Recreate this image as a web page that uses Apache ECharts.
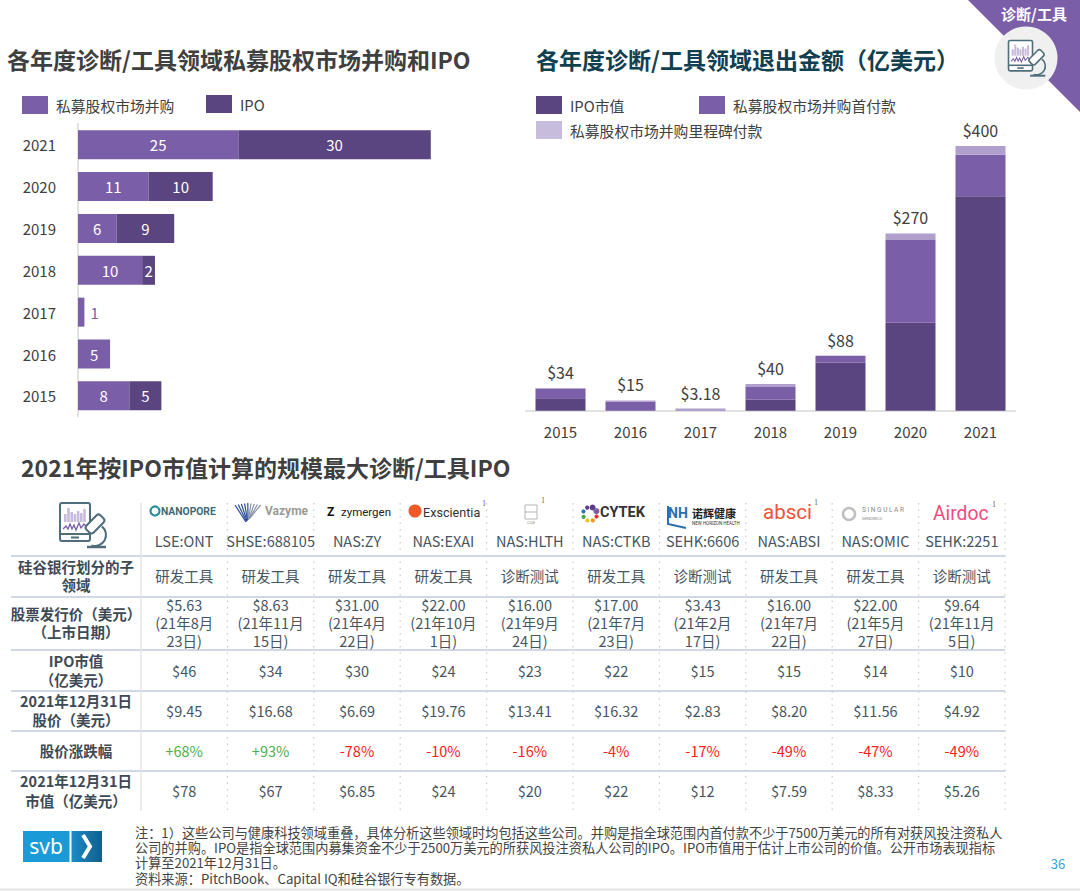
<!DOCTYPE html>
<html>
<head>
<meta charset="utf-8">
<title>诊断/工具</title>
<script src="https://cdn.jsdelivr.net/npm/echarts@6/dist/echarts.min.js"></script>
<style>
html,body{margin:0;padding:0;background:#fff;}
#main{width:1080px;height:891px;}
</style>
</head>
<body>
<div id="main"></div>
<script>
// left chart
var years = ['2015','2016','2017','2018','2019','2020','2021'];
var maDeals = [8,5,1,10,6,11,25];
var ipoDeals = [5,null,null,2,9,10,30];
// right chart
var ipoValue = [19,0,0,17,73,133,324];
var firstPay = [14,14,0.6,19,10,125,63];
var milestone = [1.5,1.5,2.6,4.5,0,10,13];
var totalLabels = ['$34','$15','$3.18','$40','$88','$270','$400'];
// table
var tickers = ['LSE:ONT','SHSE:688105','NAS:ZY','NAS:EXAI','NAS:HLTH','NAS:CTKB','SEHK:6606','NAS:ABSI','NAS:OMIC','SEHK:2251'];
var subFields = ['研发工具','研发工具','研发工具','研发工具','诊断测试','研发工具','诊断测试','研发工具','研发工具','诊断测试'];
var issuePrices = ['$5.63','$8.63','$31.00','$22.00','$16.00','$17.00','$3.43','$16.00','$22.00','$9.64'];
var listDates1 = ['(21年8月','(21年11月','(21年4月','(21年10月','(21年9月','(21年7月','(21年2月','(21年7月','(21年5月','(21年11月'];
var listDates2 = ['23日)','15日)','22日)','1日)','24日)','23日)','17日)','22日)','27日)','5日)'];
var ipoCaps = ['$46','$34','$30','$24','$23','$22','$15','$15','$14','$10'];
var closePrices = ['$9.45','$16.68','$6.69','$19.76','$13.41','$16.32','$2.83','$8.20','$11.56','$4.92'];
var priceChanges = ['+68%','+93%','-78%','-10%','-16%','-4%','-17%','-49%','-47%','-49%'];
var marketCaps = ['$78','$67','$6.85','$24','$20','$22','$12','$7.59','$8.33','$5.26'];
var rowHeaders = [
    [[567,'硅谷银行划分的子'],[585,'领域']],
    [[614,'股票发行价（美元）'],[632,'（上市日期）']],
    [[661,'IPO市值'],[680,'（亿美元）']],
    [[701,'2021年12月31日'],[720,'股价（美元）']],
    [[751,'股价涨跌幅']],
    [[781,'2021年12月31日'],[801,'市值（亿美元）']]
];
var noteLines = [
    '注：1）这些公司与健康科技领域重叠，具体分析这些领域时均包括这些公司。并购是指全球范围内首付款不少于7500万美元的所有对获风投注资私人',
    '公司的并购。IPO是指全球范围内募集资金不少于2500万美元的所获风投注资私人公司的IPO。IPO市值用于估计上市公司的价值。公开市场表现指标',
    '计算至2021年12月31日。',
    '资料来源：PitchBook、Capital IQ和硅谷银行专有数据。'
];

var FONT = '"Noto Sans CJK SC"';
var PURPLE = '#7a5ea8', DARK = '#5a4580', LIGHT = '#b09fcc', LIGHT_KEY = '#c7bcdc';
var SLATE = '#46555f';

var chart = echarts.init(document.getElementById('main'), null, {renderer:'svg'});
var g = [];

function txt(x,y,text,size,color,align,bold,family){
    g.push({type:'text',silent:true,z:10,style:{
        x:x,y:y-1,text:text,fill:color,
        font:(bold?'bold ':'')+size+'px '+(family||FONT),
        align:align||'center',textAlign:align||'center',
        verticalAlign:'middle',textVerticalAlign:'middle'
    }});
}
function hline(x1,x2,y,color,w){
    g.push({type:'line',silent:true,shape:{x1:x1,y1:y,x2:x2,y2:y},style:{stroke:color,lineWidth:w}});
}

// ---- corner tag
g.push({type:'polygon',silent:true,shape:{points:[[968,0],[1080,0],[1080,112]]},style:{fill:PURPLE}});
g.push({type:'circle',silent:true,shape:{cx:1026,cy:58,r:31.5},style:{fill:'#f0f0f0'}});
txt(1034,14,'诊断/工具',15,'#fff','center',true);

function drawIcon(ox,oy,s){
    var line = '#4f6d7a';
    var kids = [
        {type:'rect',shape:{x:0,y:0,width:30,height:38,r:2},style:{fill:'#fff',stroke:line,lineWidth:2}},
        {type:'line',shape:{x1:0,y1:31,x2:30,y2:31},style:{stroke:line,lineWidth:2}},
        {type:'line',shape:{x1:11,y1:34.5,x2:19,y2:34.5},style:{stroke:line,lineWidth:2}}
    ];
    var hs = [8,14,10,8,11,9,13];
    for(var i=0;i<hs.length;i++){
        kids.push({type:'rect',shape:{x:4+i*3.2,y:19-hs[i],width:2.6,height:hs[i]},style:{fill:'#c7bcdc'}});
    }
    kids.push({type:'polyline',shape:{points:[[3,26],[6,23],[8,26],[10,21],[12,26],[14,22],[16,27],[19,20],[21,25],[24,21],[27,24]]},
        style:{stroke:PURPLE,lineWidth:1.3,fill:'none'}});
    kids.push({type:'arc',shape:{cx:35,cy:32,r:11,startAngle:-0.9,endAngle:1.9},style:{stroke:line,lineWidth:2,fill:'none'}});
    kids.push({type:'line',shape:{x1:27,y1:44,x2:46,y2:44},style:{stroke:line,lineWidth:2.5}});
    kids.push({type:'rect',rotation:-0.78,originX:35,originY:21,shape:{x:30,y:11,width:10,height:20,r:3},style:{fill:'#fff',stroke:line,lineWidth:2}});
    g.push({type:'group',silent:true,x:ox,y:oy,scaleX:s,scaleY:s,z:9,children:kids});
}
drawIcon(1008.5,40.5,0.8);
drawIcon(60,503,1);

// ---- headings
txt(7,60,'各年度诊断/工具领域私募股权市场并购和IPO',23,'#3f3f3f','left',true);
txt(536,60,'各年度诊断/工具领域退出金额（亿美元）',23,'#10404f','left',true);
txt(21,468,'2021年按IPO市值计算的规模最大诊断/工具IPO',23,'#3f3f3f','left',true);

// ---- table grid
var TX = 141, CW = 86.4, TR = 1005;
var rowLines = [556,597,650,691,731,771];
rowLines.forEach(function(y){ hline(11,TR,y,'#cfd8e4',2); });
g.push({type:'line',silent:true,shape:{x1:TX,y1:503,x2:TX,y2:811},style:{stroke:'#e2e5e9',lineWidth:1.5}});
for(var c=1;c<=10;c++){
    var vx = TX+c*CW;
    g.push({type:'line',silent:true,shape:{x1:vx,y1:503,x2:vx,y2:811},style:{stroke:'#c5d0da',lineWidth:1.3,lineDash:[1.5,5]}});
}
rowHeaders.forEach(function(r){
    r.forEach(function(l){ txt(76,l[0],l[1],14.5,'#3d4a55','center',true); });
});
function cellX(i){ return TX+CW/2+i*CW; }
function tableRow(list,y,colorFn){
    list.forEach(function(v,i){ txt(cellX(i),y,v,14.5,colorFn?colorFn(v):SLATE); });
}
tableRow(tickers,541.5);
tableRow(subFields,576);
tableRow(issuePrices,605);
tableRow(listDates1,623.5);
tableRow(listDates2,641.5);
tableRow(ipoCaps,671);
tableRow(closePrices,711);
tableRow(priceChanges,751,function(v){ return v.charAt(0)=='+' ? '#4cb050' : '#ff2020'; });
tableRow(marketCaps,791);

// ---- company logos
var LATIN = 'Roboto';
g.push({type:'circle',silent:true,shape:{cx:155,cy:511,r:4.5},style:{fill:'none',stroke:'#2a8f9e',lineWidth:2.2}});
txt(161,512,'NANOPORE',10.3,'#3e6a78','left',true,LATIN);
for(var s=0;s<9;s++){
    g.push({type:'line',silent:true,shape:{x1:235+s*3.2,y1:503+Math.abs(s-4)*0.5,x2:246+s*0.5,y2:522-s*0.5},style:{stroke:s<5?'#2a4a9a':'#8a94a8',lineWidth:1.2}});
}
txt(265,512,'Vazyme',12,'#9a9a9a','left',true,LATIN);
txt(327,513,'Z',12,'#111','left',true,LATIN);
txt(341,513,'zymergen',11.5,'#222','left',false,LATIN);
g.push({type:'circle',silent:true,shape:{cx:415,cy:511,r:6.5},style:{fill:'#f05a28'}});
txt(423,513,'Exscientia',12.6,'#333','left',false,LATIN);
txt(484,504,'1',8,'#666','center',false,'Liberation Serif');
g.push({type:'rect',silent:true,shape:{x:525,y:505,width:12,height:14},style:{fill:'none',stroke:'#b5b5b5',lineWidth:1}});
g.push({type:'line',silent:true,shape:{x1:525,y1:512,x2:537,y2:512},style:{stroke:'#b5b5b5',lineWidth:1}});
txt(531,523,'cue',5,'#aaa','center',false,LATIN);
txt(543,501,'1',8,'#666','center',false,'Liberation Serif');
var dotColors = ['#5b3a8c','#7a5ea8','#d8342c','#f39a1e','#f2c40f','#49a84a','#2b74b8','#5b3a8c'];
dotColors.forEach(function(col,i){
    var a = i/8*Math.PI*2 - 1.2;
    g.push({type:'circle',silent:true,shape:{cx:590+Math.cos(a)*7,cy:514+Math.sin(a)*7,r:i<2?3:2.1},style:{fill:col}});
});
txt(600,513,'CYTEK',14.5,'#333','left',true,LATIN);
g.push({type:'polyline',silent:true,shape:{points:[[668,506],[668,524],[686,528]]},style:{stroke:'#2a6fb0',lineWidth:2,fill:'none'}});
txt(678,514,'NH',14,'#2a6fb0','center',true,LATIN);
txt(692,514,'诺辉健康',11,'#222','left',true);
txt(692,524,'NEW HORIZON HEALTH',4.5,'#333','left',false,LATIN);
txt(763,513,'absci',20.5,'#f0513a','left',false,LATIN);
txt(816,503,'1',8,'#666','center',false,'Liberation Serif');
g.push({type:'circle',silent:true,shape:{cx:849,cy:514,r:6},style:{fill:'none',stroke:'#c0c0c0',lineWidth:2.5}});
txt(862,511,'S I N G U L A R',6.5,'#888','left',false,LATIN);
txt(862,519,'GENOMICS',4,'#888','left',false,LATIN);
txt(933,514,'Airdoc',19.3,'#ee4d80','left',false,LATIN);
txt(994,505,'1',8,'#666','center',false,'Liberation Serif');

// ---- footer
g.push({type:'rect',silent:true,shape:{x:23,y:831,width:46.5,height:31},style:{fill:'#1a9ad6'}});
g.push({type:'rect',silent:true,shape:{x:71.5,y:831,width:30.5,height:31},style:{fill:{type:'linear',x:0,y:0,x2:1,y2:0,colorStops:[{offset:0,color:'#1a8cc8'},{offset:1,color:'#125f8a'}]}}});
g.push({type:'polyline',silent:true,shape:{points:[[83,835],[90,846.5],[83,858]]},style:{stroke:'#fff',lineWidth:4,fill:'none'}});
txt(46,847,'svb',21,'#fff','center',false,'"Noto Sans"');
noteLines.forEach(function(t,i){ txt(135,[833,848.4,863.8,879.2][i],t,13.2,'#444','left'); });
txt(1058,864,'36',13,'#3aa0d8','center');
hline(0,1080,889.5,'#e3e3e3',2);

function key(left,top,name,color,lift){
    var item = {name:name};
    if(color){ item.itemStyle = {color:color}; }
    return {left:left,top:top,padding:0,icon:'rect',itemWidth:26,itemHeight:18,selectedMode:false,data:[item],
        textStyle:{fontSize:14.8,color:'#404040',padding:[0,0,lift,3]}};
}

var option = {
    animation:false,
    backgroundColor:'#fff',
    textStyle:{fontFamily:FONT},
    legend:[
        key(22,96,'私募股权市场并购',null,3),
        key(206,95,'IPO',null,3),
        key(536,96,'IPO市值',null,6),
        key(699,96,'私募股权市场并购首付款',null,6),
        key(536,121,'私募股权市场并购里程碑付款',LIGHT_KEY,5)
    ],
    grid:[
        {left:78,top:123.8,width:449,height:293},
        {left:525.5,top:113,width:490,height:297.7}
    ],
    xAxis:[
        {gridIndex:0,type:'value',min:0,max:70,show:false},
        {gridIndex:1,type:'category',data:years,
            axisTick:{show:false},
            axisLine:{lineStyle:{color:'#d9d9d9',width:1.5}},
            axisLabel:{color:'#404040',fontSize:15,margin:13}}
    ],
    yAxis:[
        {gridIndex:0,type:'category',data:years,
            axisTick:{show:false},
            axisLine:{lineStyle:{color:'#d9d9d9',width:1.5}},
            axisLabel:{color:'#404040',fontSize:15,margin:22}},
        {gridIndex:1,type:'value',min:0,max:450,show:false}
    ],
    series:[
        {name:'私募股权市场并购',type:'bar',xAxisIndex:0,yAxisIndex:0,stack:'a',barWidth:29,
            itemStyle:{color:PURPLE},
            label:{show:true,position:'inside',color:'#fff',fontSize:15},
            data:maDeals.map(function(v){
                return v<2 ? {value:v,label:{position:'right',color:PURPLE,distance:6}} : v;
            })},
        {name:'IPO',type:'bar',xAxisIndex:0,yAxisIndex:0,stack:'a',barWidth:29,
            itemStyle:{color:DARK},
            label:{show:true,position:'inside',color:'#fff',fontSize:15},
            data:ipoDeals},
        {name:'IPO市值',type:'bar',xAxisIndex:1,yAxisIndex:1,stack:'b',barWidth:50,
            itemStyle:{color:DARK},data:ipoValue},
        {name:'私募股权市场并购首付款',type:'bar',xAxisIndex:1,yAxisIndex:1,stack:'b',barWidth:50,
            itemStyle:{color:PURPLE},data:firstPay},
        {name:'私募股权市场并购里程碑付款',type:'bar',xAxisIndex:1,yAxisIndex:1,stack:'b',barWidth:50,
            itemStyle:{color:LIGHT},data:milestone},
        {name:'总额',type:'bar',xAxisIndex:1,yAxisIndex:1,stack:'b',barWidth:50,
            itemStyle:{color:'transparent'},
            label:{show:true,position:'top',distance:8,color:'#404040',fontSize:16,
                formatter:function(p){ return totalLabels[p.dataIndex]; }},
            data:years.map(function(){ return 0; })}
    ],
    graphic:g
};
chart.setOption(option);
</script>
</body>
</html>
